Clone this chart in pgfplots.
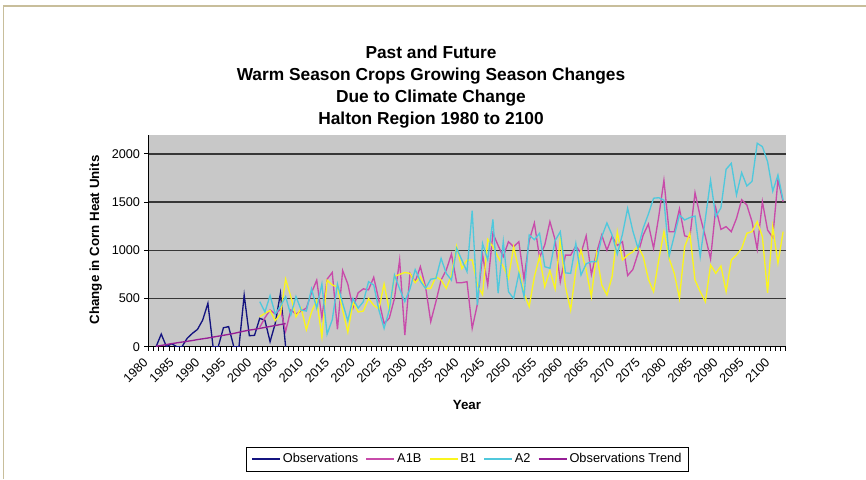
\documentclass[border=0pt]{standalone}
\usepackage{fontspec}
\setmainfont{Liberation Sans}
\usepackage{pgfplots}
\usepackage{pgfplotstable}
\pgfplotsset{compat=1.18}

\definecolor{obsnavy}{RGB}{20,20,128}
\definecolor{aonebpink}{RGB}{200,75,170}
\definecolor{boneyellow}{RGB}{250,245,30}
\definecolor{atwocyan}{RGB}{80,200,220}
\definecolor{trendpurple}{RGB}{150,30,150}
\definecolor{plotgray}{RGB}{200,200,200}
\definecolor{frametan}{RGB}{200,190,155}
\definecolor{gridgray}{RGB}{55,55,55}

% observed record and its trend
\pgfplotstableread{
year obs trend
1981 0 5
1982 131 13
1983 0 22
1984 31 32
1985 0 40
1986 0 48
1987 87 56
1988 138 64
1989 180 74
1990 277 82
1991 450 90
1992 0 100
1993 0 109
1994 197 118
1995 208 128
1996 0 138
1997 0 150
1998 536 162
1999 114 172
2000 118 180
2001 294 190
2002 275 200
2003 52 210
2004 242 220
2005 555 230
2006 0 240
}\obsdata

% emission scenarios A1B, B1, A2
\pgfplotstableread{
year a1b b1 a2
2001 200 311 467
2002 300 346 360
2003 380 375 530
2004 340 270 340
2005 390 340 420
2006 160 700 520
2007 380 520 330
2008 340 310 520
2009 370 400 380
2010 400 175 370
2011 560 360 600
2012 690 480 400
2013 300 100 650
2014 700 690 130
2015 770 640 280
2016 180 620 650
2017 790 380 450
2018 650 150 270
2019 400 460 500
2020 560 360 400
2021 600 370 467
2022 590 500 674
2023 720 430 640
2024 480 390 380
2025 240 650 190
2026 295 380 380
2027 500 730 743
2028 900 750 600
2029 120 770 467
2030 760 760 600
2031 674 664 800
2032 830 726 680
2033 622 605 605
2034 260 605 700
2035 467 726 709
2036 692 692 916
2037 795 605 760
2038 961 740 690
2039 664 1040 1020
2040 664 810 900
2041 674 900 778
2042 190 900 1411
2043 440 640 432
2044 955 540 1070
2045 640 1113 900
2046 1176 1037 1320
2047 1050 930 555
2048 934 830 1090
2049 1089 710 570
2050 1037 1037 500
2051 1089 795 760
2052 700 553 519
2053 1100 415 1158
2054 1283 726 1110
2055 925 934 1176
2056 1055 622 830
2057 1297 790 813
2058 1110 600 1100
2059 674 1124 1193
2060 950 622 765
2061 950 380 761
2062 1044 795 1072
2063 970 1003 743
2064 1150 795 860
2065 750 519 882
2066 975 968 882
2067 1158 640 1141
2068 1000 536 1283
2069 1145 726 1158
2070 1050 1193 960
2071 1089 899 1167
2072 738 951 1435
2073 800 985 1200
2074 968 1044 1020
2075 1158 934 1230
2076 1272 700 1375
2077 1020 571 1540
2078 1350 900 1545
2079 1725 1193 1520
2080 1193 916 940
2081 1193 761 1150
2082 1430 501 1366
2083 1150 1037 1314
2084 1135 1176 1340
2085 1598 692 1355
2086 1349 571 934
2087 1141 467 1330
2088 910 847 1725
2089 1440 761 1349
2090 1217 837 1440
2091 1245 571 1840
2092 1193 899 1902
2093 1330 951 1573
2094 1525 1020 1805
2095 1470 1176 1667
2096 1297 1193 1715
2097 1010 1297 2110
2098 1504 1141 2075
2099 1210 560 1920
2100 1134 1245 1613
2101 1729 865 1781
2102 1504 1193 1521
}\scendata

\begin{document}
\begin{tikzpicture}[x=0.75pt,y=0.75pt]
\path[use as bounding box] (0,0) rectangle (866,479);
% chart area frame
\draw[frametan, line width=1.1pt] (3.7,0) -- (3.7,473.2) -- (866,473.2);

% title
\begin{scope}[every node/.style={anchor=base, inner sep=0pt, font=\fontsize{13}{15}\selectfont\bfseries}]
\node at (431,420) {Past and Future};
\node at (431,398) {Warm Season Crops Growing Season Changes};
\node at (431,376) {Due to Climate Change};
\node at (431,354) {Halton Region 1980 to 2100};
\end{scope}

% axis titles
\node[rotate=90, anchor=base, inner sep=0pt, font=\fontsize{10}{12}\selectfont\bfseries] at (99,239) {Change in Corn Heat Units};
\node[anchor=base, inner sep=0pt, font=\fontsize{10}{12}\selectfont\bfseries] at (467,69.5) {Year};

\begin{axis}[
  at={(111.225pt,99.225pt)}, anchor=south west,
  scale only axis, width=478.05pt, height=159.1pt,
  xmin=1979.5, xmax=2102.5, ymin=0, ymax=2200,
  axis background/.style={fill=plotgray},
  axis lines*=left,
  axis line style={black, line width=0.8pt},
  ytick={0,500,1000,1500,2000},
  ymajorgrids,
  major grid style={gridgray, line width=1pt},
  xtick={1980,1985,...,2100},
  xticklabels={1980,1985,1990,1995,2000,2005,2010,2015,2020,2025,2030,2035,2040,2045,2050,2055,2060,2065,2070,2075,2080,2085,2090,2095,2100},
  minor xtick={1979.5,1980.5,...,2102.5},
  tick align=outside,
  major tick length=3pt, minor tick length=3pt,
  tick style={black, line width=0.6pt},
  major x tick style={draw=none},
  /pgf/number format/1000 sep={},
  /pgf/number format/assume math mode=true,
  tick label style={font=\fontsize{9.5}{11}\selectfont},
  yticklabel style={inner sep=0pt, xshift=-3pt},
  xticklabel style={inner sep=0pt, xshift=-6.4pt, yshift=-4.5pt, rotate=45, anchor=north east},
  legend columns=5,
  legend image code/.code={\draw[#1] (0pt,0pt) -- (21pt,0pt);},
  legend style={at={(0.5008,-0.530)}, anchor=center, draw=black, line width=0.6pt,
    fill=white, font=\fontsize{9.6}{11}\selectfont, inner xsep=3.5pt, inner ysep=3pt,
    nodes={inner sep=1.6pt},
    /tikz/every even column/.append style={column sep=4pt}},
]
\addplot[obsnavy, line width=1pt] table[x=year, y=obs] {\obsdata};
\addlegendentry{Observations}
\addplot[aonebpink, line width=1pt] table[x=year, y=a1b] {\scendata};
\addlegendentry{A1B}
\addplot[boneyellow, line width=1pt] table[x=year, y=b1] {\scendata};
\addlegendentry{B1}
\addplot[atwocyan, line width=1pt] table[x=year, y=a2] {\scendata};
\addlegendentry{A2}
\addplot[trendpurple, line width=1pt] table[x=year, y=trend] {\obsdata};
\addlegendentry{Observations Trend}
\end{axis}
\end{tikzpicture}
\end{document}
